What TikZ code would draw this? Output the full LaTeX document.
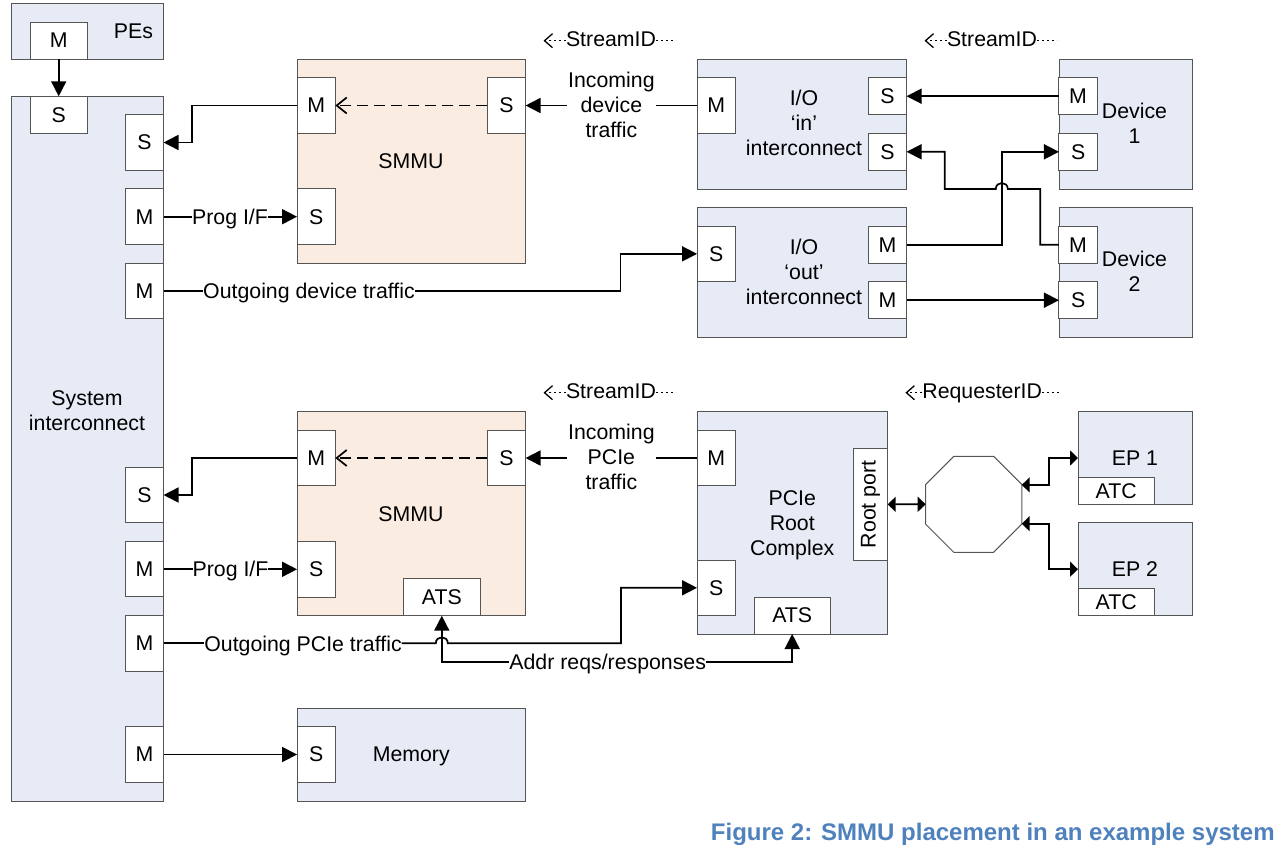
\documentclass[tikz,border=0pt]{standalone}
\usepackage{fontspec}
\setmainfont{Liberation Sans}
\usepackage{graphicx}
\usetikzlibrary{arrows.meta,shapes.geometric}
\definecolor{blkblue}{RGB}{231,235,246}
\definecolor{smmupeach}{RGB}{251,236,226}
\definecolor{edgegray}{RGB}{85,85,85}
\definecolor{capblue}{RGB}{79,129,189}
\begin{document}
\begin{tikzpicture}[x=1pt,y=1pt]
	\tikzstyle{every node}+=[inner sep=0pt,outer sep=0pt,align=center,font=\fontsize{21.3}{25}\selectfont]
	\tikzstyle{blk}=[draw=edgegray,line width=1pt,fill=blkblue,text depth=0pt]
	\tikzstyle{smmu}=[blk,fill=smmupeach,minimum width=228pt,minimum height=204pt]
	\tikzstyle{port}=[draw=edgegray,line width=1pt,fill=white,minimum width=38.3pt,minimum height=55.6pt]
	\tikzstyle{sport}=[port,minimum height=37pt]
	\tikzstyle{wlbl}=[text depth=0pt]
	\tikzstyle{idtxt}=[text height=12pt,text depth=0pt]
	\tikzstyle{link}=[line width=1.7pt,>={Triangle[length=15pt,width=15pt]}]
	\tikzstyle{shorttip}=[>={Triangle[length=8pt,width=15pt]}]
	\tikzstyle{dlink}=[line width=1.7pt,dash pattern=on 11pt off 6pt,-{Straight Barb[length=10pt,width=16pt]}]
	\tikzstyle{idline}=[line width=1.3pt,dash pattern=on 2pt off 3pt]
	\useasboundingbox (0,0) rectangle (1288,-854);

	\node[blk,minimum width=152pt,minimum height=56pt] (pes) at (87,-31) {};
	\node[blk,minimum width=152pt,minimum height=705pt] (sysic) at (87,-448.5) {};
	\node[smmu] (smmua) at (411,-161) {SMMU};
	\node[blk,minimum width=209pt,minimum height=130pt] (ioin) at (801.5,-124) {};
	\node[blk,minimum width=133pt,minimum height=130pt] (devA) at (1125.5,-124) {};
	\node[blk,minimum width=209pt,minimum height=130pt] (ioout) at (801.5,-272) {};
	\node[blk,minimum width=133pt,minimum height=130pt] (devB) at (1125.5,-272) {};
	\node[smmu] (smmub) at (411,-513.7) {SMMU};
	\node[blk,minimum width=190.5pt,minimum height=222.3pt] (pcie) at (792.25,-522.85) {PCIe\\Root\\Complex};
	\node[blk,minimum width=114pt,minimum height=92.6pt] (epA) at (1135,-458) {EP 1};
	\node[blk,minimum width=114pt,minimum height=93pt] (epB) at (1135,-569.2) {EP 2};
	\node[blk,minimum width=228.5pt,minimum height=92.7pt] (mem) at (411.25,-754.65) {Memory};
	\node[draw=edgegray,line width=1pt,regular polygon,regular polygon sides=8,minimum size=104pt] (sw) at (973.7,-504.3) {};

	\node (pestxt) at (133.5,-31.7) {PEs};
	\node (systxt) at (87,-410.4) {System\\interconnect};
	\node (iointxt) at (804,-122.5) {I/O\\‘in’\\interconnect};
	\node (ioouttxt) at (804,-271.6) {I/O\\‘out’\\interconnect};
	\node (devAtxt) at (1134.5,-123.4) {Device\\1};
	\node (devBtxt) at (1134.5,-271.4) {Device\\2};

	\node[sport,minimum width=57pt] (pesM) at (58.7,-40.5) {M};
	\node[sport,minimum width=57pt] (sysS0) at (58.7,-114.8) {S};
	\node[port] (sysS1) at (144.4,-142.5) {S};
	\node[port] (sysM1) at (144.4,-216.7) {M};
	\node[port] (sysM2) at (144.4,-291) {M};
	\node[port] (sysS2) at (144.4,-495) {S};
	\node[port] (sysM3) at (144.4,-569) {M};
	\node[port] (sysM4) at (144.4,-643.3) {M};
	\node[port] (sysM5) at (144.4,-754.5) {M};
	\node[port] (smmuaM) at (316.2,-105.5) {M};
	\node[port] (smmuaS) at (506.4,-105.5) {S};
	\node[port] (smmuaP) at (316.2,-216.7) {S};
	\node[port] (ioinM) at (716.2,-105.5) {M};
	\node[sport] (ioinSa) at (887.4,-96.2) {S};
	\node[sport] (ioinSb) at (887.4,-151.8) {S};
	\node[sport] (devAM) at (1078.1,-96.2) {M};
	\node[sport] (devAS) at (1078.1,-151.8) {S};
	\node[port] (iooutS) at (716.2,-253.85) {S};
	\node[sport] (iooutMa) at (887.4,-244.7) {M};
	\node[sport] (iooutMb) at (887.4,-300.2) {M};
	\node[sport] (devBM) at (1078.1,-244.7) {M};
	\node[sport] (devBS) at (1078.1,-300.2) {S};
	\node[port] (smmubM) at (316.2,-458) {M};
	\node[port] (smmubS) at (506.4,-458) {S};
	\node[port] (smmubP) at (316.2,-569.3) {S};
	\node[sport,minimum width=76.4pt] (smmubATS) at (441.8,-597.2) {ATS};
	\node[port] (pcieM) at (716.2,-458) {M};
	\node[port] (pcieS) at (716.2,-587.8) {S};
	\node[sport,minimum width=76.4pt] (pcieATS) at (792.2,-615.5) {ATS};
	\node[port,minimum width=34.4pt,minimum height=111.3pt] (rootport) at (870.5,-504.35) {\rotatebox{90}{Root port}};
	\node[port,minimum width=76.3pt,minimum height=27pt] (epAatc) at (1116.2,-490.8) {ATC};
	\node[port,minimum width=76.3pt,minimum height=27pt] (epBatc) at (1116.2,-602.2) {ATC};
	\node[port] (memS) at (316.2,-754.5) {S};

	\node[inner xsep=1.5pt] (indev) at (611.4,-105) {Incoming\\device\\traffic};
	\node[inner xsep=1.5pt] (inpcie) at (611.4,-457) {Incoming\\PCIe\\traffic};
	\node[wlbl] (progA) at (230,-216.7) {Prog I/F};
	\node[wlbl] (progB) at (230.5,-569) {Prog I/F};
	\node[wlbl] (outdev) at (309,-291) {Outgoing device traffic};
	\node[wlbl] (outpcie) at (303,-643.3) {Outgoing PCIe traffic};
	\node[wlbl] (addr) at (607.7,-662) {Addr reqs/responses};

	\node[idtxt] (sidA) at (611,-40.7) {StreamID};
	\node[idtxt] (sidB) at (992,-40.7) {StreamID};
	\node[idtxt] (sidC) at (611,-392.7) {StreamID};
	\node[idtxt] (ridA) at (982.2,-392.7) {RequesterID};
	\draw[idline,-{Straight Barb[length=8pt,width=14pt]}] (sidA.west) -- ++(-22.5,0);
	\draw[idline] (sidA.east) -- ++(20,0);
	\draw[idline,-{Straight Barb[length=8pt,width=14pt]}] (sidB.west) -- ++(-22.5,0);
	\draw[idline] (sidB.east) -- ++(20,0);
	\draw[idline,-{Straight Barb[length=8pt,width=14pt]}] (sidC.west) -- ++(-22.5,0);
	\draw[idline] (sidC.east) -- ++(20,0);
	\draw[idline,-{Straight Barb[length=8pt,width=14pt]}] (ridA.west) -- ++(-17,0);
	\draw[idline] (ridA.east) -- ++(18,0);

	\coordinate (jogA) at (620.5,-291);
	\coordinate (jogB) at (1040.2,-189);
	\coordinate (jogC) at (944.8,-189);
	\coordinate (hopA) at (1001.8,-189);
	\coordinate (hopB) at (441.8,-643.3);
	\coordinate (jogE) at (621,-643.3);

	\draw[link,->] (pesM) -- (sysS0);
	\draw[link,->] (smmuaM.west) -- ++(-105,0) |- (sysS1.east);
	\draw[link] (sysM1.east) -- (progA.west |- sysM1.east);
	\draw[link,->] (progA.east |- smmuaP.west) -- (smmuaP.west);
	\draw[link] (sysM2.east) -- (outdev.west |- sysM2.east);
	\draw[link,->] (outdev.east |- sysM2.east) -- (jogA) |- (iooutS.west);
	\draw[link] (ioinM.west) -- (indev.east |- ioinM.west);
	\draw[link,->] (indev.west |- smmuaS.east) -- (smmuaS.east);
	\draw[dlink] (smmuaS.west) -- (smmuaM.east);
	\draw[link,->] (devAM.west) -- (ioinSa.east);
	\draw[link,->] (devBM.west) -| (jogB) -- ([xshift=6pt]hopA) .. controls ([xshift=6pt,yshift=8pt]hopA) and ([xshift=-6pt,yshift=8pt]hopA) .. ([xshift=-6pt]hopA) -- (jogC) |- (ioinSb.east);
	\draw[link,->] (iooutMa.east) -| (hopA |- devAS.west) -- (devAS.west);
	\draw[link,->] (iooutMb.east) -- (devBS.west);

	\draw[link,->] (smmubM.west) -- ++(-105,0) |- (sysS2.east);
	\draw[link] (sysM3.east) -- (progB.west |- sysM3.east);
	\draw[link,->] (progB.east |- smmubP.west) -- (smmubP.west);
	\draw[link] (pcieM.west) -- (inpcie.east |- pcieM.west);
	\draw[link,->] (inpcie.west |- smmubS.east) -- (smmubS.east);
	\draw[dlink] (smmubS.west) -- (smmubM.east);
	\draw[link] (sysM4.east) -- (outpcie.west |- sysM4.east);
	\draw[link,->] (outpcie.east |- sysM4.east) -- ([xshift=-6pt]hopB) .. controls ([xshift=-6pt,yshift=8pt]hopB) and ([xshift=6pt,yshift=8pt]hopB) .. ([xshift=6pt]hopB) -- (jogE) |- (pcieS.west);
	\draw[link,<-] (smmubATS.south) |- (addr.west);
	\draw[link,->] (addr.east) -| (pcieATS.south);
	\draw[link,->] (sysM5.east) -- (memS.west);

	\draw[link,shorttip,<->] (rootport.east) -- (sw.west);
	\draw[link,shorttip,<->] (sw.22.5) -- ++(27.6,0) |- (epA.west);
	\draw[link,shorttip,<->] (sw.-22.5) -- ++(27.6,0) |- (epB.west);

	\node[anchor=base,text=capblue,font=\fontsize{24}{28}\selectfont\bfseries] (caption) at (992.8,-840) {Figure 2: SMMU placement in an example system};
\end{tikzpicture}
\end{document}
